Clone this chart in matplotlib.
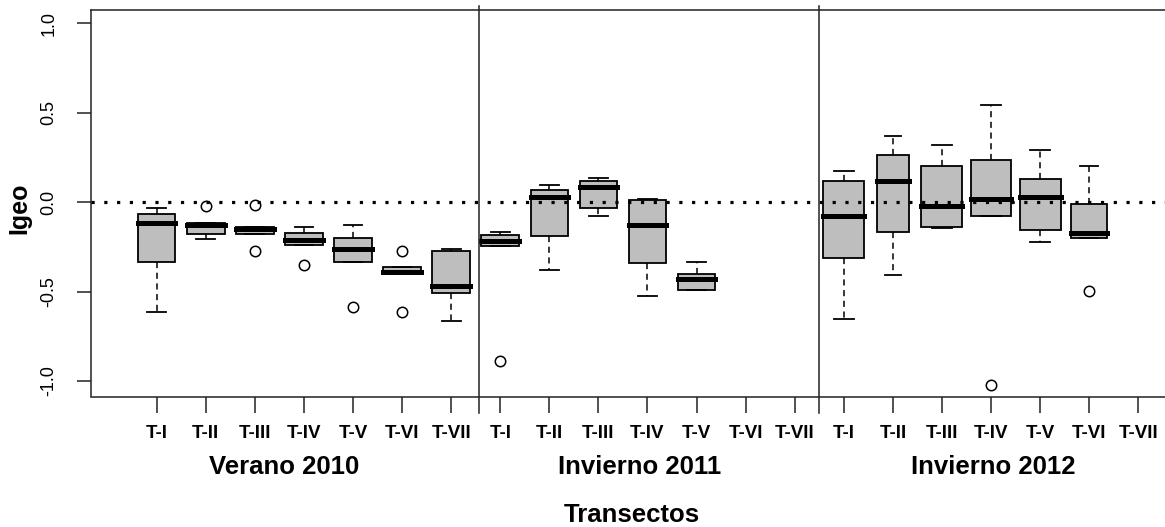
import matplotlib.pyplot as plt
from matplotlib import transforms

# etiquetas del eje x
transectos = ['T-I', 'T-II', 'T-III', 'T-IV', 'T-V', 'T-VI', 'T-VII']
campanas = ['Verano 2010', 'Invierno 2011', 'Invierno 2012']

# posicion de cada caja (7 transectos por campana, los vacios no se dibujan)
posiciones = [1, 2, 3, 4, 5, 6, 7,
              8, 9, 10, 11, 12,
              15, 16, 17, 18, 19, 20]

# estadisticos de Igeo por transecto
bigote_inf = [-0.616, -0.207, -0.179, -0.238, -0.333, -0.399, -0.663,
              -0.248, -0.380, -0.080, -0.523, -0.490,
              -0.654, -0.408, -0.147, -0.080, -0.225, -0.203]
q1 = [-0.333, -0.179, -0.179, -0.238, -0.333, -0.399, -0.508,
      -0.248, -0.188, -0.032, -0.343, -0.490,
      -0.313, -0.169, -0.141, -0.080, -0.156, -0.203]
mediana = [-0.117, -0.128, -0.151, -0.212, -0.263, -0.389, -0.467,
           -0.216, 0.026, 0.086, -0.128, -0.430,
           -0.080, 0.116, -0.021, 0.017, 0.028, -0.175]
q3 = [-0.067, -0.119, -0.138, -0.175, -0.203, -0.361, -0.276,
      -0.184, 0.067, 0.116, 0.009, -0.402,
      0.116, 0.263, 0.203, 0.233, 0.127, -0.013]
bigote_sup = [-0.034, -0.119, -0.138, -0.138, -0.128, -0.361, -0.263,
              -0.166, 0.097, 0.134, 0.017, -0.333,
              0.173, 0.370, 0.320, 0.544, 0.291, 0.203]
atipicos = [[], [-0.020], [-0.015, -0.276], [-0.350], [-0.585], [-0.276, -0.616], [],
            [-0.886], [], [], [], [],
            [], [], [], [-1.022], [], [-0.497]]

fuente = ['Liberation Sans', 'DejaVu Sans']

fig = plt.figure(figsize=(11.65, 5.27), dpi=100)
ax = fig.add_axes([90.7 / 1165, 1 - 396.5 / 527, (1172 - 90.7) / 1165, (396.5 - 10) / 527])

stats = []
for lo, a, m, b, hi, f in zip(bigote_inf, q1, mediana, q3, bigote_sup, atipicos):
    stats.append(dict(whislo=lo, q1=a, med=m, q3=b, whishi=hi, fliers=f))

# ancho variable (varwidth)
anchos = [0.765] * 12 + [0.835, 0.666, 0.835, 0.80, 0.835, 0.733]

ax.bxp(stats, positions=posiciones, widths=anchos,
       capwidths=[w / 2 for w in anchos], patch_artist=True,
       boxprops=dict(facecolor='#bebebe', edgecolor='black', linewidth=1.3),
       medianprops=dict(color='black', linewidth=3.6, solid_capstyle='projecting'),
       whiskerprops=dict(color='black', linewidth=1.1, linestyle=(0, (4, 3))),
       capprops=dict(color='black', linewidth=1.3),
       flierprops=dict(marker='o', markersize=7.5, markerfacecolor='none',
                       markeredgecolor='black', markeredgewidth=1.1))

ax.axhline(0, color='black', linewidth=2.3, linestyle=(0, (1, 3)), zorder=5)

# separacion entre campanas
for xv in [7.56, 14.49]:
    ax.plot([xv, xv], [-1.179, 1.095], color='#222222', linewidth=1.1, clip_on=False, zorder=6)

ax.set_xlim(-0.345, 21.687)
ax.set_ylim(-1.087, 1.074)

ax.set_xticks(range(1, 22))
ax.set_xticklabels(transectos * 3, fontsize=13.5, fontweight='bold', family=fuente)
ax.set_yticks([-1.0, -0.5, 0.0, 0.5, 1.0])
ax.set_yticklabels(['-1.0', '-0.5', '0.0', '0.5', '1.0'], fontsize=13, family=fuente,
                   rotation=90, va='center')
ax.tick_params(axis='x', length=11.5, width=1.1, pad=9, color='#222222')
ax.tick_params(axis='y', length=10, width=1.1, pad=14, color='#222222')

for s in ['left', 'bottom', 'top']:
    ax.spines[s].set_linewidth(1.1)
    ax.spines[s].set_color('#222222')
ax.spines['right'].set_visible(False)

trans = transforms.blended_transform_factory(ax.transData, fig.transFigure)
for xc, nombre in zip([3.59, 10.83, 18.05], campanas):
    ax.text(xc, 1 - 474 / 527, nombre, transform=trans, ha='center', va='baseline',
            fontsize=18.5, fontweight='bold', family=fuente)

fig.text(631.5 / 1165, 1 - 522 / 527, 'Transectos', ha='center', va='baseline',
         fontsize=18.5, fontweight='bold', family=fuente)
fig.text(19 / 1165, 1 - 208.5 / 527, 'Igeo', rotation=90, ha='center', va='center',
         fontsize=18, fontweight='bold', family=fuente)

fig.savefig('out.png', dpi=100)
